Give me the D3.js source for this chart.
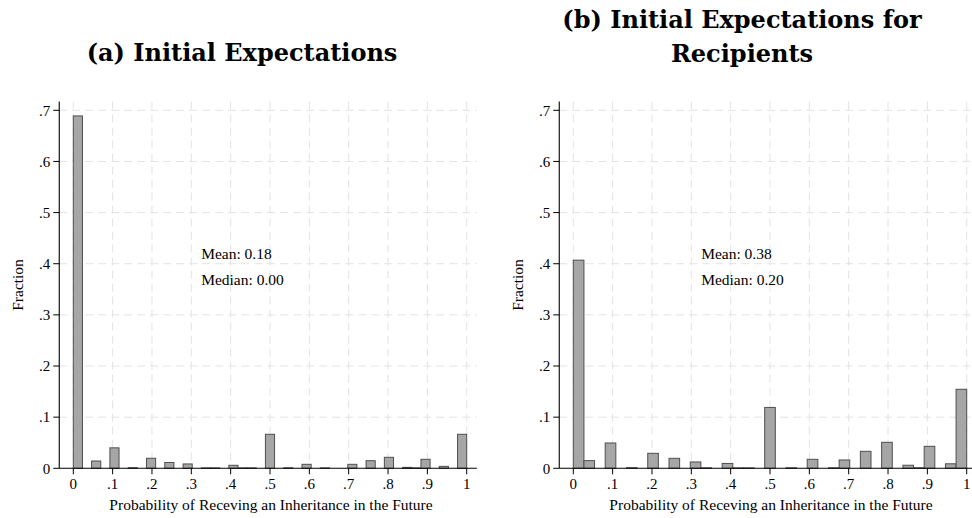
<!DOCTYPE html>
<html>
<head>
<meta charset="utf-8">
<script src="https://cdn.jsdelivr.net/npm/d3@7"></script>
<style>
  html, body { margin: 0; padding: 0; background: #ffffff; }
  svg { display: block; }
</style>
</head>
<body>
<svg id="chart" width="972" height="518"></svg>
<script>
// Histogram fractions, one value per equal-width bin on [0, 1]
const fractionsAll = [
  0.689, 0, 0.0143, 0, 0.0400, 0, 0.0012, 0, 0.0196, 0,
  0.0114, 0, 0.0085, 0, 0.0008, 0.0008, 0, 0.0059, 0.0008, 0.0008,
  0, 0.0665, 0, 0.0010, 0, 0.0078, 0, 0.0008, 0, 0,
  0.0078, 0, 0.0149, 0, 0.0215, 0, 0.0018, 0.0008, 0.0176, 0,
  0.0038, 0, 0.0665
];
const fractionsRecipients = [
  0.407, 0.015, 0, 0.0495, 0, 0.0012, 0, 0.0293, 0, 0.0195,
  0, 0.0124, 0.0010, 0, 0.0095, 0.0008, 0.0008, 0, 0.119, 0,
  0.0010, 0, 0.0176, 0, 0.0010, 0.0163, 0, 0.0332, 0, 0.0508,
  0, 0.0060, 0.0010, 0.0430, 0, 0.0088, 0.1545
];

const xTicks = [0, 0.1, 0.2, 0.3, 0.4, 0.5, 0.6, 0.7, 0.8, 0.9, 1];
const xTickLabels = ["0", ".1", ".2", ".3", ".4", ".5", ".6", ".7", ".8", ".9", "1"];
const yTicks = [0, 0.1, 0.2, 0.3, 0.4, 0.5, 0.6, 0.7];
const yTickLabels = ["0", ".1", ".2", ".3", ".4", ".5", ".6", ".7"];

const panelTitles = [
  ["(a) Initial Expectations"],
  ["(b) Initial Expectations for", "Recipients"]
];
const meanLabels = ["Mean: 0.18", "Mean: 0.38"];
const medianLabels = ["Median: 0.00", "Median: 0.20"];
const xTitle = "Probability of Receving an Inheritance in the Future";
const yTitle = "Fraction";

// where the summary note sits, in data units (x, baseline y of each line)
const noteX = 0.325;
const noteY = [0.409, 0.359];

const svg = d3.select("#chart");
svg.append("rect").attr("width", 972).attr("height", 518).attr("fill", "#ffffff");

const serif = "'Liberation Serif', 'Times New Roman', serif";

function drawPanel(offsetX, values, titleLines, meanText, medianText) {
  const g = svg.append("g").attr("transform", `translate(${offsetX},0)`);

  const x = d3.scaleLinear().domain([0, 1]).range([73.3, 466.7]);
  const y = d3.scaleLinear().domain([0, 0.7]).range([468.3, 110.3]);
  const left = x(-0.0357), right = x(1.0257), top = y(0.717), bottom = y(0);

  // dashed grid
  const grid = g.append("g").attr("stroke", "#e3e3e3").attr("stroke-width", 1)
    .attr("stroke-dasharray", "8,5").attr("fill", "none");
  grid.selectAll("line.h").data(yTicks.slice(1)).join("line")
    .attr("class", "h")
    .attr("x1", left).attr("x2", right)
    .attr("y1", d => y(d)).attr("y2", d => y(d));
  grid.selectAll("line.v").data(xTicks).join("line")
    .attr("class", "v")
    .attr("x1", d => x(d)).attr("x2", d => x(d))
    .attr("y1", top).attr("y2", bottom);

  // bars
  const n = values.length;
  g.append("g").selectAll("rect").data(values).join("rect")
    .attr("x", (d, i) => x(i / n))
    .attr("width", (d, i) => x((i + 1) / n) - x(i / n))
    .attr("y", d => y(d))
    .attr("height", d => bottom - y(d))
    .attr("fill", "#a6a6a6")
    .attr("stroke", "#4f4f4f")
    .attr("stroke-width", 1);

  // x axis
  const xAxis = g.append("g").attr("transform", `translate(0,${bottom})`);
  xAxis.append("line").attr("x1", left).attr("x2", right)
    .attr("stroke", "#000").attr("stroke-width", 1.1);
  xAxis.selectAll("line.tick").data(xTicks).join("line")
    .attr("class", "tick")
    .attr("x1", d => x(d)).attr("x2", d => x(d))
    .attr("y1", 0).attr("y2", 6)
    .attr("stroke", "#000").attr("stroke-width", 1);
  xAxis.selectAll("text").data(xTicks).join("text")
    .attr("x", d => x(d)).attr("y", 21)
    .attr("text-anchor", "middle")
    .attr("font-family", serif).attr("font-size", 15)
    .attr("fill", "#000")
    .text((d, i) => xTickLabels[i]);

  // y axis
  const yAxis = g.append("g").attr("transform", `translate(${left},0)`);
  yAxis.append("line").attr("y1", top).attr("y2", bottom)
    .attr("stroke", "#000").attr("stroke-width", 1.1);
  yAxis.selectAll("line.tick").data(yTicks).join("line")
    .attr("class", "tick")
    .attr("y1", d => y(d)).attr("y2", d => y(d))
    .attr("x1", -6).attr("x2", 0)
    .attr("stroke", "#000").attr("stroke-width", 1);
  yAxis.selectAll("text").data(yTicks).join("text")
    .attr("x", -9).attr("y", d => y(d))
    .attr("dy", "0.35em")
    .attr("text-anchor", "end")
    .attr("font-family", serif).attr("font-size", 15)
    .attr("fill", "#000")
    .text((d, i) => yTickLabels[i]);

  // axis titles
  g.append("text")
    .attr("x", (x(0) + x(1)) / 2 + 1).attr("y", 510)
    .attr("text-anchor", "middle")
    .attr("font-family", serif).attr("font-size", 15.5)
    .attr("fill", "#000")
    .text(xTitle);
  g.append("text")
    .attr("transform", `translate(23,${(top + bottom) / 2}) rotate(-90)`)
    .attr("text-anchor", "middle")
    .attr("font-family", serif).attr("font-size", 15.5)
    .attr("fill", "#000")
    .text(yTitle);

  // summary note
  [meanText, medianText].forEach((t, i) => {
    g.append("text")
      .attr("x", x(noteX)).attr("y", y(noteY[i]))
      .attr("font-family", serif).attr("font-size", 15.5)
      .attr("fill", "#000")
      .text(t);
  });

  // panel title
  const baselines = titleLines.length === 1 ? [61] : [28, 62];
  titleLines.forEach((t, i) => {
    g.append("text")
      .attr("x", 242).attr("y", baselines[i])
      .attr("text-anchor", "middle")
      .attr("font-family", "'DejaVu Serif', serif")
      .attr("font-weight", "bold")
      .attr("font-size", 24)
      .attr("fill", "#000")
      .text(t);
  });
}

drawPanel(0, fractionsAll, panelTitles[0], meanLabels[0], medianLabels[0]);
drawPanel(500, fractionsRecipients, panelTitles[1], meanLabels[1], medianLabels[1]);
</script>
</body>
</html>
